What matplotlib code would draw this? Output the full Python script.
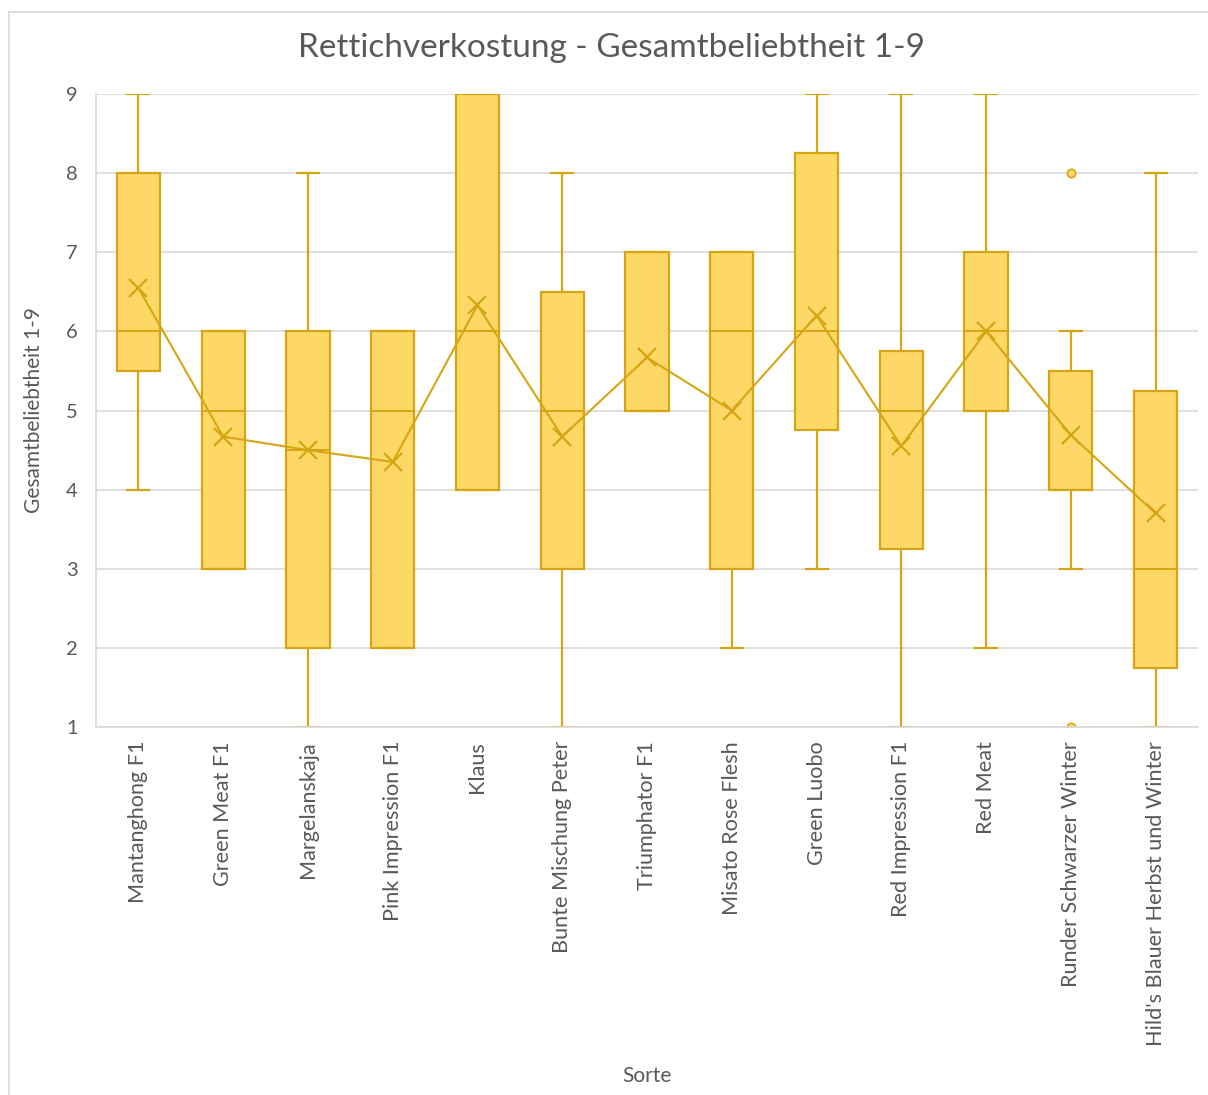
import matplotlib.pyplot as plt
from matplotlib.lines import Line2D

# data
sorten = ["Mantanghong F1", "Green Meat F1", "Margelanskaja", "Pink Impression F1",
          "Klaus", "Bunte Mischung Peter", "Triumphator F1", "Misato Rose Flesh",
          "Green Luobo", "Red Impression F1", "Red Meat", "Runder Schwarzer Winter",
          "Hild's Blauer Herbst und Winter"]
whisker_lo = [4, 3, 1, 2, 4, 1, 5, 2, 3, 1, 2, 3, 1]
q1 = [5.5, 3, 2, 2, 4, 3, 5, 3, 4.75, 3.25, 5, 4, 1.75]
median = [6, 5, 4.5, 5, 6, 5, 5, 6, 6, 5, 6, 4, 3]
q3 = [8, 6, 6, 6, 9, 6.5, 7, 7, 8.25, 5.75, 7, 5.5, 5.25]
whisker_hi = [9, 6, 8, 6, 9, 8, 7, 7, 9, 9, 9, 6, 8]
mean = [6.55, 4.67, 4.5, 4.35, 6.33, 4.67, 5.67, 5.0, 6.2, 4.55, 6.0, 4.69, 3.7]
outliers = [[], [], [], [], [], [], [], [], [], [], [], [8, 1], []]

fill = "#FDD866"
edge = "#D6A514"
grey = "#595959"

plt.rcParams['font.family'] = ['Lato', 'DejaVu Sans']

fig = plt.figure(figsize=(12.08, 10.95), dpi=100)
ax = fig.add_axes([96 / 1208, 1 - 727 / 1095, (1198 - 96) / 1208, (727 - 94) / 1095])

stats = []
for i in range(len(sorten)):
    stats.append(dict(whislo=whisker_lo[i], q1=q1[i], med=median[i], q3=q3[i],
                      whishi=whisker_hi[i], mean=mean[i], fliers=outliers[i]))

positions = list(range(1, len(sorten) + 1))
ax.bxp(stats, positions=positions, widths=0.51, patch_artist=True,
       showmeans=False, showfliers=True,
       boxprops=dict(facecolor=fill, edgecolor=edge, linewidth=1.6),
       medianprops=dict(color=edge, linewidth=1.4),
       whiskerprops=dict(color=edge, linewidth=1.6),
       capprops=dict(color=edge, linewidth=1.6),
       capwidths=0.26,
       flierprops=dict(marker='o', markerfacecolor=fill, markeredgecolor=edge,
                       markersize=6, markeredgewidth=1.2))

# mean line with x markers
ax.plot(positions, mean, color=edge, linewidth=1.5, marker='x', markersize=13,
        markeredgewidth=1.6, zorder=4)

ax.set_xlim(0.5, 13.5)
ax.set_ylim(1, 9)
ax.set_yticks(range(1, 10))
ax.set_xticks(positions)
ax.set_xticklabels(sorten, rotation=90, fontsize=15.6, color=grey)
ax.tick_params(axis='y', length=0, pad=13, labelsize=14.5, labelcolor=grey)
ax.tick_params(axis='x', length=0, pad=10)
ax.grid(axis='y', color='#D9D9D9', linewidth=1.2)
ax.set_axisbelow(True)
for side in ['top', 'right']:
    ax.spines[side].set_visible(False)
ax.spines['left'].set_color('#D9D9D9')
ax.spines['bottom'].set_color('#D9D9D9')
ax.spines['left'].set_linewidth(1.2)
ax.spines['bottom'].set_linewidth(1.2)

ax.set_ylabel("Gesamtbeliebtheit 1-9", fontsize=15, color=grey, labelpad=16)
fig.text(647 / 1208, 1 - 1076 / 1095, "Sorte", fontsize=15, color=grey,
         ha='center', va='center')
fig.text(612 / 1208, 1 - 48 / 1095, "Rettichverkostung - Gesamtbeliebtheit 1-9",
         fontsize=24, color=grey, ha='center', va='center')

# chart area border
fig.add_artist(Line2D([9 / 1208, 9 / 1208], [0, 1 - 12 / 1095], color='#D9D9D9', linewidth=1.2))
fig.add_artist(Line2D([9 / 1208, 1], [1 - 12 / 1095, 1 - 12 / 1095], color='#D9D9D9', linewidth=1.2))

fig.savefig("out.png", dpi=100)
